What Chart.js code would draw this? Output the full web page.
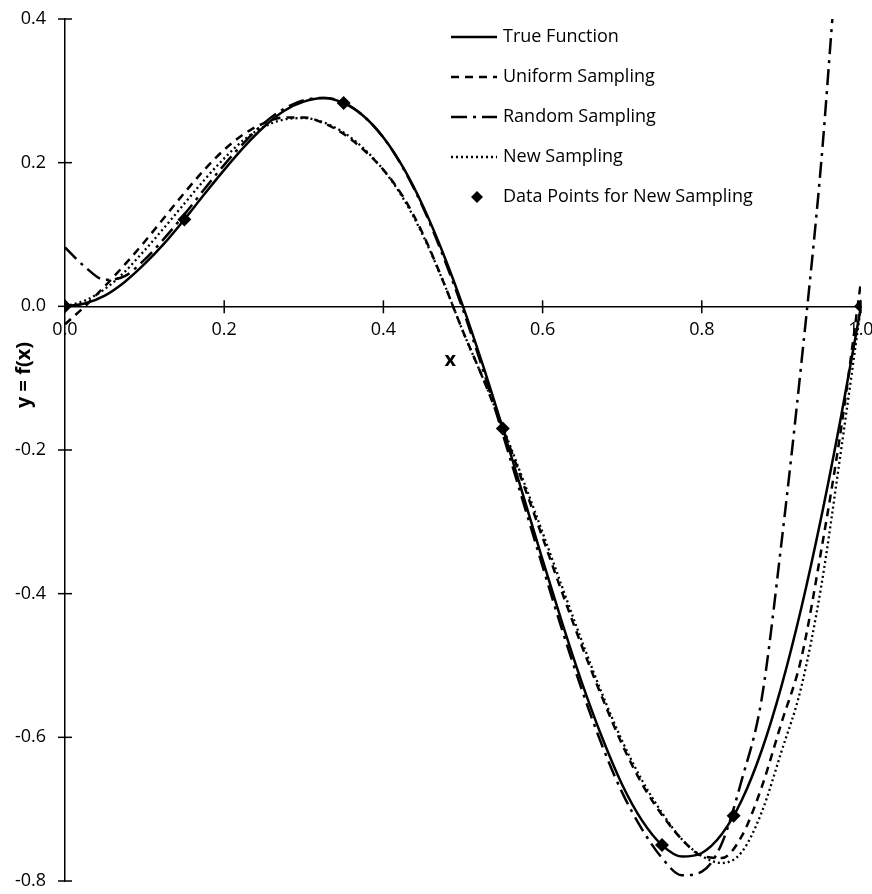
<!DOCTYPE html>
<html>
<head>
<meta charset="utf-8">
<script src="https://cdn.jsdelivr.net/npm/chart.js@4/dist/chart.umd.min.js"></script>
<style>
  html, body { margin:0; padding:0; background:#fff; }
  #wrap { position:relative; width:872px; height:894px; }
</style>
</head>
<body>
<div id="wrap"><canvas id="c" width="872" height="894"></canvas></div>
<script>
// ───────────────────────────────────────────────
// DATI
// ───────────────────────────────────────────────
const xs = [0, 0.025, 0.05, 0.075, 0.1, 0.125, 0.15, 0.175, 0.2, 0.225, 0.25, 0.275, 0.3, 0.325, 0.35, 0.375, 0.4,
  0.425, 0.45, 0.475, 0.5, 0.525, 0.55, 0.575, 0.6, 0.625, 0.65, 0.675, 0.7, 0.725, 0.75, 0.775, 0.8,
  0.825, 0.85, 0.875, 0.9, 0.925, 0.95, 0.975, 1.0];

const trueFn = [0, 0.004, 0.015, 0.034, 0.059, 0.088, 0.121, 0.156, 0.190, 0.222, 0.250, 0.272, 0.285, 0.290, 0.283, 0.265, 0.235,
  0.193, 0.139, 0.074, 0, -0.082, -0.170, -0.261, -0.353, -0.442, -0.526, -0.601, -0.666, -0.716, -0.750, -0.766, -0.761,
  -0.735, -0.688, -0.619, -0.529, -0.420, -0.294, -0.153, 0];

const uniform = [-0.025, 0.000, 0.028, 0.058, 0.090, 0.124, 0.158, 0.190, 0.218, 0.240, 0.255, 0.263, 0.263, 0.255, 0.240, 0.218, 0.190,
  0.152, 0.100, 0.035, -0.035, -0.100, -0.170, -0.245, -0.322, -0.400, -0.475, -0.545, -0.610, -0.665, -0.708, -0.742, -0.765,
  -0.768, -0.738, -0.670, -0.580, -0.490, -0.340, -0.170, 0.035];

const newSamp = [0, 0.008, 0.024, 0.048, 0.078, 0.110, 0.143, 0.176, 0.206, 0.232, 0.250, 0.260, 0.262, 0.256, 0.242, 0.220, 0.190,
  0.150, 0.098, 0.035, -0.035, -0.100, -0.168, -0.240, -0.315, -0.392, -0.468, -0.540, -0.605, -0.660, -0.705, -0.742, -0.765,
  -0.775, -0.760, -0.705, -0.620, -0.530, -0.390, -0.200, 0];

const randX = [0, 0.025, 0.05, 0.075, 0.1, 0.125, 0.15, 0.175, 0.2, 0.225, 0.25, 0.275, 0.3, 0.325, 0.35, 0.375, 0.4,
  0.425, 0.45, 0.475, 0.5, 0.525, 0.55, 0.575, 0.6, 0.625, 0.65, 0.675, 0.7, 0.725, 0.75, 0.775, 0.8,
  0.825, 0.85, 0.875, 0.9, 0.925, 0.95, 0.964];
const randY = [0.082, 0.055, 0.037, 0.042, 0.065, 0.095, 0.128, 0.163, 0.197, 0.228, 0.255, 0.275, 0.287, 0.290, 0.284, 0.265, 0.235,
  0.192, 0.137, 0.070, -0.005, -0.088, -0.178, -0.270, -0.362, -0.452, -0.536, -0.612, -0.677, -0.728, -0.768, -0.792, -0.787,
  -0.748, -0.660, -0.548, -0.330, -0.080, 0.200, 0.400];

const ptsX = [0, 0.15, 0.35, 0.55, 0.75, 0.84, 1.0];
const ptsY = [0, 0.121, 0.283, -0.170, -0.750, -0.709, 0];

const xTicks = [0.2, 0.4, 0.6, 0.8, 1.0];
const yTicks = [-0.8, -0.6, -0.4, -0.2, 0, 0.2, 0.4];
const nomi = ['True Function', 'Uniform Sampling', 'Random Sampling', 'New Sampling', 'Data Points for New Sampling'];

const FONT = "'Open Sans', sans-serif";
const coppie = (xa, ya) => xa.map((x, i) => ({ x, y: ya[i] }));

const linea = (label, data, dash, w) => ({
  label, data, borderColor: '#000', backgroundColor: '#000', borderWidth: w || 2.5,
  borderDash: dash, pointRadius: 0, cubicInterpolationMode: 'monotone', fill: false
});

// ───────────────────────────────────────────────
// PLUGIN — tacche incrociate, titoli assi, legenda
// ───────────────────────────────────────────────
const decor = {
  id: 'decor',
  afterDraw(chart) {
    const { ctx, scales: { x, y } } = chart;
    const y0 = y.getPixelForValue(0);
    ctx.save();
    ctx.strokeStyle = '#000';
    ctx.lineWidth = 1.5;
    ctx.setLineDash([]);
    yTicks.forEach(v => {
      const p = y.getPixelForValue(v);
      ctx.beginPath(); ctx.moveTo(x.left - 7, p); ctx.lineTo(x.left + 7, p); ctx.stroke();
    });
    xTicks.forEach(v => {
      const p = x.getPixelForValue(v);
      ctx.beginPath(); ctx.moveTo(p, y0 - 6); ctx.lineTo(p, y0 + 7); ctx.stroke();
    });

    // titoli assi
    ctx.fillStyle = '#000';
    ctx.font = `bold 20px ${FONT}`;
    ctx.textAlign = 'center';
    ctx.textBaseline = 'middle';
    ctx.fillText('x', x.getPixelForValue(0.484), y0 + 54);
    ctx.translate(24, 375);
    ctx.rotate(-Math.PI / 2);
    ctx.fillText('y = f(x)', 0, 0);
    ctx.restore();

    // legenda
    ctx.save();
    ctx.font = `18px ${FONT}`;
    ctx.textBaseline = 'middle';
    ctx.fillStyle = '#000';
    chart.data.datasets.forEach((ds, i) => {
      const ly = 37 + i * 40;
      if (ds.showLine === false) {
        ctx.beginPath();
        ctx.moveTo(477, ly - 6); ctx.lineTo(483, ly); ctx.lineTo(477, ly + 6); ctx.lineTo(471, ly);
        ctx.closePath(); ctx.fill();
      } else {
        ctx.strokeStyle = '#000';
        ctx.lineWidth = ds.borderWidth;
        ctx.setLineDash(ds.borderDash || []);
        ctx.beginPath(); ctx.moveTo(451, ly); ctx.lineTo(497, ly); ctx.stroke();
      }
      ctx.fillText(ds.label, 503, ly);
    });
    ctx.restore();
  }
};

// ───────────────────────────────────────────────
// GRAFICO
// ───────────────────────────────────────────────
// niente padding extra dalle etichette: l'area la decide solo layout.padding
const senzaPadding = s => { s.paddingLeft = 0; s.paddingRight = 0; s.paddingTop = 0; s.paddingBottom = 0; };

new Chart(document.getElementById('c').getContext('2d'), {
  type: 'line',
  data: {
    datasets: [
      linea(nomi[0], coppie(xs, trueFn), [], 2.5),
      linea(nomi[1], coppie(xs, uniform), [8, 6], 2.5),
      linea(nomi[2], coppie(randX, randY), [16, 6, 3, 6], 2.5),
      linea(nomi[3], coppie(xs, newSamp), [2, 3], 2.3),
      { label: nomi[4], data: coppie(ptsX, ptsY), showLine: false, pointStyle: 'rectRot',
        pointRadius: 7, pointHoverRadius: 7, backgroundColor: '#000', borderColor: '#000', borderWidth: 0 }
    ]
  },
  options: {
    responsive: false,
    animation: false,
    devicePixelRatio: 1,
    layout: { padding: { left: 0, right: 11, top: 19, bottom: 13 } },
    plugins: { legend: { display: false }, tooltip: { enabled: false } },
    scales: {
      x: {
        type: 'linear', min: 0, max: 1, position: { y: 0 },
        afterFit: senzaPadding,
        grid: { display: false, drawTicks: true, tickLength: 13 },
        border: { display: true, color: '#000', width: 1.5 },
        ticks: { stepSize: 0.2, padding: 0, color: '#000', font: { family: FONT, size: 18 }, callback: v => v.toFixed(1) }
      },
      y: {
        type: 'linear', min: -0.8, max: 0.4,
        afterFit: s => { s.width = 65; senzaPadding(s); },
        grid: { display: false, drawTicks: true, tickLength: 19 },
        border: { display: true, color: '#000', width: 1.5 },
        ticks: { stepSize: 0.2, padding: 0, color: '#000', font: { family: FONT, size: 18 }, callback: v => v.toFixed(1) }
      }
    }
  },
  plugins: [decor]
});
</script>
</body>
</html>
